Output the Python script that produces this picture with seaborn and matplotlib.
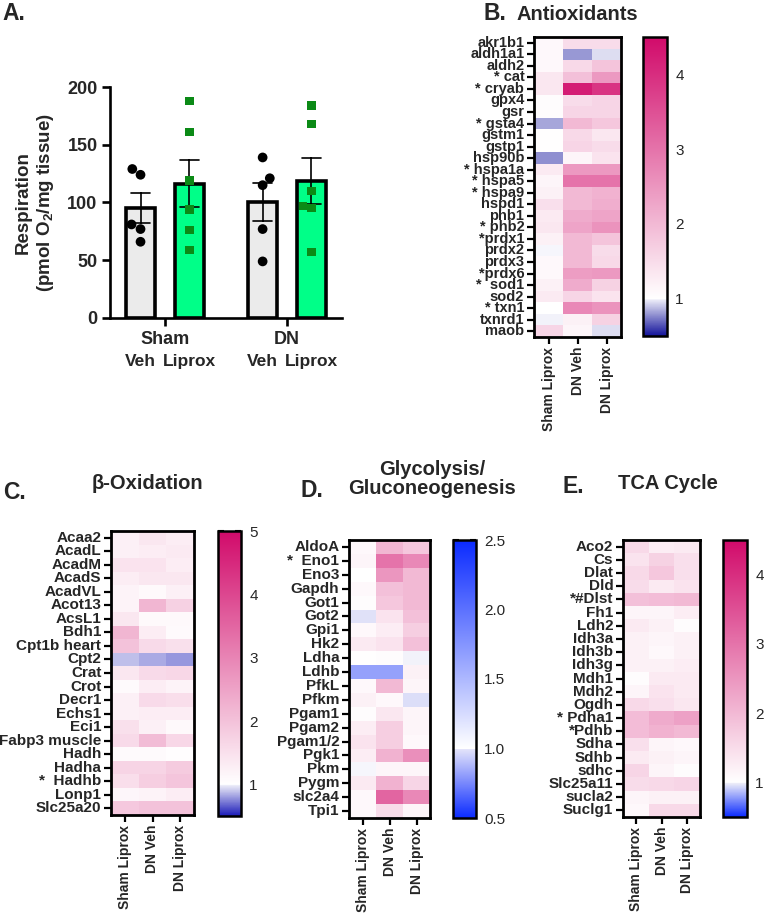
import numpy as np
import pandas as pd
import matplotlib
matplotlib.use("Agg")
import matplotlib.pyplot as plt
import matplotlib.transforms as mtransforms
import seaborn as sns
from matplotlib.colors import LinearSegmentedColormap, Normalize, to_rgba
from matplotlib.cm import ScalarMappable

# ---------------- data ----------------
groups = ["Sham", "DN"]
treatments = ["Veh", "Liprox"]
sham_veh = [129, 124, 81, 77, 66]
sham_liprox = [188, 161, 119, 94, 76, 59]
dn_veh = [139, 121, 115, 77, 49]
dn_liprox = [184, 168, 110, 97, 95, 57]

columns = ["Sham Liprox", "DN Veh", "DN Liprox"]

anti_genes = ["akr1b1", "aldh1a1", "aldh2", "* cat", "* cryab", "gpx4", "gsr", "* gsta4",
              "gstm1", "gstp1", "hsp90b", "* hspa1a", "* hspa5", "* hspa9", "hspd1", "phb1",
              "* phb2", "*prdx1", "prdx2", "prdx3", "*prdx6", "*  sod1", "sod2", "* txn1",
              "txnrd1", "maob"]
anti_sham_liprox = [1.1, 1.1, 1.1, 1.35, 1.35, 1.05, 1.05, 0.83, 1.02, 1.02, 0.78, 1.3, 1.15,
                    1.2, 1.45, 1.3, 1.35, 1.2, 0.995, 1.1, 1.1, 1.2, 1.3, 1.0, 0.99, 1.6]
anti_dn_veh = [1.5, 0.8, 1.55, 1.9, 4.25, 1.5, 1.6, 2.0, 1.55, 1.6, 1.15, 2.45, 3.0,
               2.0, 2.0, 2.2, 2.3, 2.0, 2.0, 2.0, 2.4, 2.2, 1.6, 2.7, 1.2, 1.15]
anti_dn_liprox = [1.5, 0.95, 1.85, 2.45, 3.9, 1.6, 1.6, 1.8, 1.35, 1.5, 1.4, 2.45, 3.0,
                  2.1, 2.15, 2.3, 2.55, 1.85, 1.5, 1.55, 2.45, 1.65, 1.4, 2.55, 1.65, 0.95]

box_genes = ["Acaa2", "AcadL", "AcadM", "AcadS", "AcadVL", "Acot13", "AcsL1", "Bdh1",
             "Cpt1b heart", "Cpt2", "Crat", "Crot", "Decr1", "Echs1", "Eci1", "Fabp3 muscle",
             "Hadh", "Hadha", "*  Hadhb", "Lonp1", "Slc25a20"]
box_sham_liprox = [1.25, 1.25, 1.45, 1.3, 1.2, 1.2, 1.4, 2.2, 2.0, 0.88, 1.4, 1.08, 1.25,
                   1.25, 1.5, 1.6, 1.08, 1.7, 1.55, 1.15, 1.9]
box_dn_veh = [1.4, 1.3, 1.45, 1.4, 1.1, 2.2, 1.1, 1.3, 1.6, 0.83, 1.6, 1.3, 1.6,
              1.3, 1.25, 2.1, 1.08, 1.7, 1.8, 1.2, 2.0]
box_dn_liprox = [1.3, 1.35, 1.3, 1.4, 1.25, 1.75, 1.1, 1.08, 1.5, 0.79, 1.65, 1.2, 1.55,
                 1.3, 1.1, 1.65, 1.03, 1.85, 1.95, 1.3, 2.0]

gly_genes = ["AldoA", "*  Eno1", "Eno3", "Gapdh", "Got1", "Got2", "Gpi1", "Hk2", "Ldha",
             "Ldhb", "PfkL", "Pfkm", "Pgam1", "Pgam2", "Pgam1/2", "Pgk1", "Pkm", "Pygm",
             "slc2a4", "Tpi1"]
gly_sham_liprox = [1.1, 1.15, 1.0, 1.1, 1.05, 0.96, 1.1, 1.3, 1.02, 0.8, 1.1, 1.2, 1.05,
                   1.25, 1.4, 1.25, 0.995, 1.3, 1.1, 1.1]
gly_dn_veh = [2.05, 3.0, 2.5, 1.9, 1.8, 1.4, 1.25, 1.4, 1.05, 0.8, 2.0, 1.1, 1.35,
              1.7, 1.7, 2.1, 1.15, 2.1, 3.2, 1.5]
gly_dn_liprox = [1.8, 2.7, 2.0, 2.0, 2.0, 1.9, 1.7, 1.9, 0.99, 1.2, 1.15, 0.95, 1.15,
                 1.15, 1.1, 2.6, 1.15, 1.6, 2.7, 1.15]

tca_genes = ["Aco2", "Cs", "Dlat", "Dld", "*#Dlst", "Fh1", "Ldh2", "Idh3a", "Idh3b", "Idh3g",
             "Mdh1", "Mdh2", "Ogdh", "* Pdha1", "*Pdhb", "Sdha", "Sdhb", "sdhc", "Slc25a11",
             "sucla2", "Suclg1"]
tca_sham_liprox = [1.55, 1.4, 1.55, 1.5, 1.9, 1.15, 1.3, 1.2, 1.2, 1.2, 1.05, 1.15, 1.55,
                   1.95, 1.95, 1.45, 1.3, 1.6, 1.5, 1.15, 1.1]
tca_dn_veh = [1.25, 1.65, 1.8, 1.3, 1.95, 1.15, 1.2, 1.15, 1.1, 1.2, 1.3, 1.4, 1.45,
              2.2, 2.1, 1.15, 1.2, 1.15, 1.55, 1.2, 1.55]
tca_dn_liprox = [1.3, 1.45, 1.45, 1.4, 2.0, 1.25, 1.05, 1.2, 1.2, 1.25, 1.3, 1.3, 1.35,
                 2.35, 2.0, 1.1, 1.15, 1.05, 1.6, 1.2, 1.55]

# ---------------- style ----------------
sns.set_theme(style="white")
plt.rcParams["font.family"] = ["Liberation Sans", "DejaVu Sans"]
plt.rcParams["font.weight"] = "bold"
plt.rcParams["mathtext.fontset"] = "custom"
plt.rcParams["mathtext.rm"] = "Liberation Sans:bold"
plt.rcParams["mathtext.it"] = "Liberation Sans:bold"
plt.rcParams["mathtext.bf"] = "Liberation Sans:bold"

W, H = 764, 913
fig = plt.figure(figsize=(W / 100, H / 100), dpi=100)


def rect(l, t, r, b):
    return [l / W, 1 - b / H, (r - l) / W, (b - t) / H]


PINK = "#d10a6a"


def make_cmap(low, vmin, vmax, high=PINK, mid=1.0):
    p = (mid - vmin) / (vmax - vmin)
    return LinearSegmentedColormap.from_list(
        "c", [(0, low), (p - 0.004, "#ececf8"), (p, "white"), (1, high)], N=1024)


# ---------------- panel A ----------------
rows = []
for g, t, vals in [("Sham", "Veh", sham_veh), ("Sham", "Liprox", sham_liprox),
                   ("DN", "Veh", dn_veh), ("DN", "Liprox", dn_liprox)]:
    for v in vals:
        rows.append({"group": g, "trt": t, "resp": v})
dfA = pd.DataFrame(rows)

axA = fig.add_axes(rect(110, 87, 342, 318))
sns.barplot(data=dfA, x="group", y="resp", hue="trt", order=groups, hue_order=treatments,
            palette={"Veh": "#ebebeb", "Liprox": "#00ff88"}, saturation=1, errorbar="se",
            capsize=0.3, err_kws={"color": "black", "linewidth": 1.2}, edgecolor="black",
            linewidth=2.6, gap=0.42, legend=False, ax=axA, zorder=1)
sns.swarmplot(data=dfA[dfA.trt == "Veh"], x="group", y="resp", hue="trt", order=groups,
              hue_order=treatments, dodge=True, marker="o", size=7,
              palette={"Veh": "black", "Liprox": "black"}, legend=False, ax=axA, zorder=3)
sns.swarmplot(data=dfA[dfA.trt == "Liprox"], x="group", y="resp", hue="trt", order=groups,
              hue_order=treatments, dodge=True, marker="s", size=6,
              palette={"Veh": "#0b8a16", "Liprox": "#0b8a16"}, legend=False, ax=axA, zorder=3)
axA.set_ylim(0, 200)
axA.set_xlim(-0.45, 1.45)
axA.set_yticks([0, 50, 100, 150, 200])
axA.set_xlabel("")
axA.set_ylabel("Respiration\n(pmol O$_2$/mg tissue)", fontsize=13.5, fontweight="bold",
               labelpad=8)
sns.despine(ax=axA)
for s in ["left", "bottom"]:
    axA.spines[s].set_linewidth(1.9)
    axA.spines[s].set_color("black")
axA.tick_params(axis="both", left=True, bottom=True, length=6, width=1.9, color="black",
                labelsize=13, pad=3)
for lab in axA.get_xticklabels() + axA.get_yticklabels():
    lab.set_fontweight("bold")
trans = mtransforms.blended_transform_factory(axA.transData, axA.transAxes)
veh_col = to_rgba("#ebebeb")
for p in axA.patches:
    if p.get_height() == 0:
        continue
    cx = p.get_x() + p.get_width() / 2
    name = "Veh" if np.allclose(p.get_facecolor()[:3], veh_col[:3], atol=0.02) else "Liprox"
    axA.text(cx, -0.19, name, transform=trans, ha="center", va="center", fontsize=12.5,
             fontweight="bold")


# ---------------- heatmaps ----------------
def heat(ax_rect, cax_rect, genes, c1, c2, c3, cmap, vmin, vmax, ticks, fmt="%d",
         cbar_cmap=None, cbar_range=None, rowsize=11):
    df = pd.DataFrame({columns[0]: c1, columns[1]: c2, columns[2]: c3}, index=genes)
    ax = fig.add_axes(ax_rect)
    cax = fig.add_axes(cax_rect)
    if cbar_cmap is None:
        sns.heatmap(df, ax=ax, cmap=cmap, vmin=vmin, vmax=vmax, cbar=True, cbar_ax=cax,
                    linewidths=0)
        cb = ax.collections[0].colorbar
    else:
        sns.heatmap(df, ax=ax, cmap=cmap, vmin=vmin, vmax=vmax, cbar=False, linewidths=0)
        sm = ScalarMappable(norm=Normalize(*cbar_range), cmap=cbar_cmap)
        cb = fig.colorbar(sm, cax=cax)
    for s in ax.spines.values():
        s.set_visible(True)
        s.set_linewidth(2)
        s.set_color("black")
    ax.set_yticks(np.arange(len(genes)) + 0.5)
    ax.set_yticklabels(genes, rotation=0, fontsize=rowsize, fontweight="bold")
    ax.set_xticks(np.arange(3) + 0.5)
    ax.set_xticklabels(columns, rotation=90, fontsize=10, fontweight="bold")
    ax.tick_params(axis="both", left=True, bottom=True, length=5, width=1.6, color="black",
                   pad=2)
    ax.set_xlabel("")
    ax.set_ylabel("")
    cb.outline.set_linewidth(1.8)
    cb.outline.set_edgecolor("black")
    cb.set_ticks(ticks)
    cb.ax.yaxis.set_major_formatter(matplotlib.ticker.FormatStrFormatter(fmt))
    cax.tick_params(axis="y", left=True, right=True, direction="in", length=4, width=1.5,
                    color="black", labelsize=11, pad=6, labelleft=False, labelright=True)
    for lab in cax.get_yticklabels():
        lab.set_fontweight("normal")
    return ax


cmapB = make_cmap("#12129a", 0.5, 4.5)
heat(rect(534, 37, 621, 337), rect(643, 37, 667, 336), anti_genes,
     anti_sham_liprox, anti_dn_veh, anti_dn_liprox, cmapB, 0.5, 4.5, [1, 2, 3, 4],
     rowsize=10.5)

cmapC = make_cmap("#1a1ab8", 0.5, 5.0)
heat(rect(111, 531, 194, 815), rect(218, 531, 241, 816), box_genes,
     box_sham_liprox, box_dn_veh, box_dn_liprox, cmapC, 0.5, 5.0, [1, 2, 3, 4, 5])

cmapD = make_cmap("#0a2aff", 0.5, 4.5)
cmapD_bar = LinearSegmentedColormap.from_list(
    "d", [(0, "#0a2aff"), (0.248, "#e4e4fa"), (0.25, "white"), (1, "#0a2aff")], N=1024)
heat(rect(349, 540, 430, 818), rect(453, 540, 476, 818), gly_genes,
     gly_sham_liprox, gly_dn_veh, gly_dn_liprox, cmapD, 0.5, 4.5,
     [0.5, 1.0, 1.5, 2.0, 2.5], fmt="%.1f", cbar_cmap=cmapD_bar, cbar_range=(0.5, 2.5))

cmapE = make_cmap("#0a2aff", 0.5, 4.5)
heat(rect(623, 540, 700, 817), rect(723, 540, 747, 817), tca_genes,
     tca_sham_liprox, tca_dn_veh, tca_dn_liprox, cmapE, 0.5, 4.5, [1, 2, 3, 4])

# ---------------- titles / labels ----------------
tkw = dict(fontsize=14.5, fontweight="bold", ha="center", va="center")
fig.text(577 / W, 1 - 15 / H, "Antioxidants", **tkw)
fig.text(147 / W, 1 - 483 / H, "β-Oxidation", **tkw)
fig.text(432 / W, 1 - 479 / H, "Glycolysis/\nGluconeogenesis", linespacing=1.05, **tkw)
fig.text(668 / W, 1 - 483 / H, "TCA Cycle", **tkw)

lkw = dict(fontsize=16.5, fontweight="bold", ha="left", va="center")
fig.text(2 / W, 1 - 13 / H, "A.", **lkw)
fig.text(484 / W, 1 - 13 / H, "B.", **lkw)
fig.text(3 / W, 1 - 492 / H, "C.", **lkw)
fig.text(300 / W, 1 - 490 / H, "D.", **lkw)
fig.text(563 / W, 1 - 486 / H, "E.", **lkw)

fig.savefig("out.png", dpi=100)
